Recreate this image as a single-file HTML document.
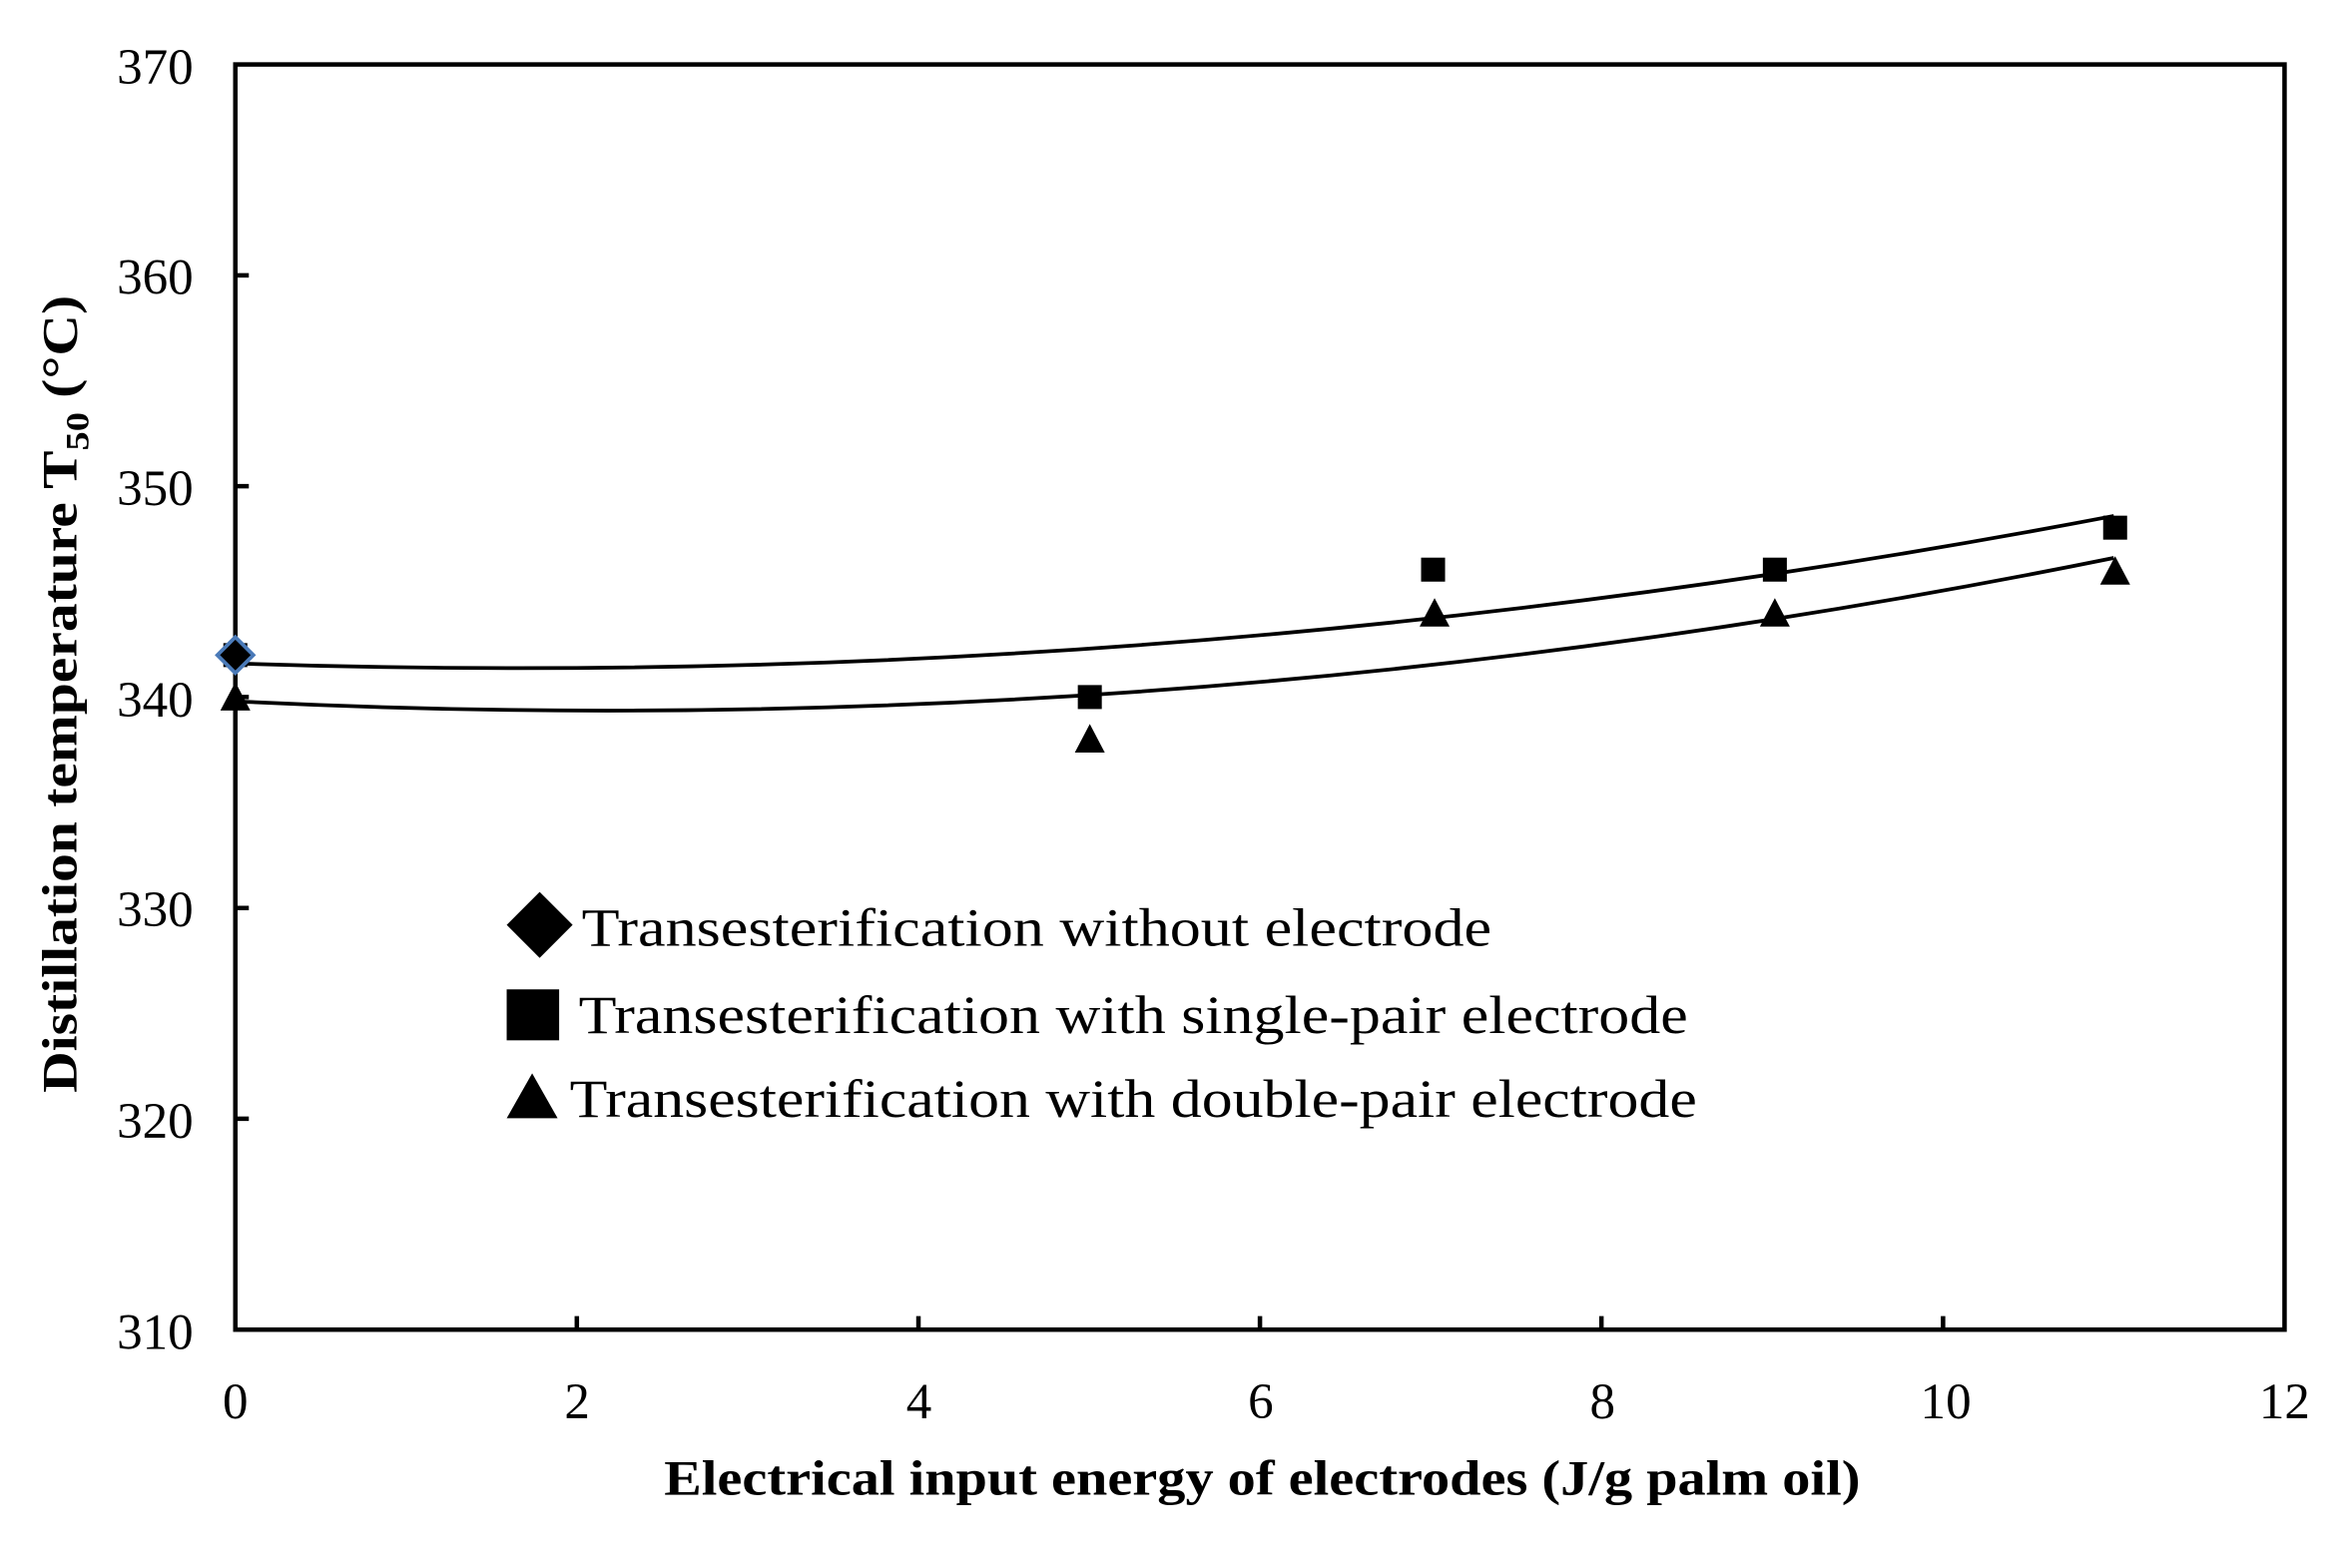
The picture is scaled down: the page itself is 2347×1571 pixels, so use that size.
<!DOCTYPE html>
<html><head><meta charset="utf-8"><style>html,body{margin:0;padding:0;background:#fff}svg{display:block}</style></head>
<body>
<svg width="2347" height="1571" viewBox="0 0 1563 1046" preserveAspectRatio="none" xmlns="http://www.w3.org/2000/svg" font-family="'Liberation Serif', serif">
<rect width="1563" height="1046" fill="#fff"/>
<g stroke="#000" stroke-width="3" fill="none">
<rect x="157" y="43" width="1367" height="844"/>
<path d="M157 183.7h9M157 324.3h9M157 465h9M157 605.7h9M157 746.3h9"/>
<path d="M384.8 887v-9M612.7 887v-9M840.5 887v-9M1068.3 887v-9M1296.2 887v-9"/>
</g>
<g font-size="34" text-anchor="end" fill="#000">
<text x="129" y="56">370</text><text x="129" y="196">360</text><text x="129" y="337">350</text>
<text x="129" y="478">340</text><text x="129" y="618">330</text><text x="129" y="759">320</text><text x="129" y="900">310</text>
</g>
<g font-size="34" text-anchor="middle" fill="#000">
<text x="157" y="946">0</text><text x="385" y="946">2</text><text x="613" y="946">4</text><text x="841" y="946">6</text>
<text x="1069" y="946">8</text><text x="1298" y="946">10</text><text x="1524" y="946">12</text>
</g>
<text x="443" y="997" font-size="33" font-weight="bold" textLength="798" lengthAdjust="spacingAndGlyphs">Electrical input  energy of electrodes (J/g palm oil)</text>
<text transform="translate(51,463) rotate(-90)" font-size="33" font-weight="bold" text-anchor="middle" textLength="532" lengthAdjust="spacingAndGlyphs">Distillation  temperature  T<tspan font-size="22" dy="8">50</tspan><tspan dy="-8"> (°C)</tspan></text>
<g stroke="#000" stroke-width="2.5" fill="none">
<path d="M157 442.5Q783.6 463.7 1410.1 344.2"/>
<path d="M157 467.8Q783.6 499.2 1410.1 372.2"/>
</g>
<g fill="#000">
<rect x="149" y="429" width="16" height="16"/><rect x="719" y="457" width="16" height="16"/>
<rect x="948" y="372" width="16" height="16"/><rect x="1176" y="372" width="16" height="16"/>
<rect x="1403" y="344" width="16" height="16"/>
<path d="M157 455l10 19h-20z"/><path d="M727 483l10 19h-20z"/><path d="M957 399l10 19h-20z"/>
<path d="M1184 399l10 19h-20z"/><path d="M1411 371l10 19h-20z"/>
<path d="M157 425l12 12-12 12-12-12z" stroke="#4a7ab8" stroke-width="2.5"/>
<path d="M360 595l22 22-22 22-22-22z"/>
<rect x="338" y="660" width="35" height="34"/>
<path d="M355 716l17 30h-34z"/>
</g>
<g font-size="36" fill="#000">
<text x="388" y="631" textLength="607" lengthAdjust="spacingAndGlyphs">Transesterification without electrode</text>
<text x="386" y="689" textLength="740" lengthAdjust="spacingAndGlyphs">Transesterification with single-pair electrode</text>
<text x="380" y="745" textLength="752" lengthAdjust="spacingAndGlyphs">Transesterification with double-pair electrode</text>
</g>
</svg>
</body></html>
